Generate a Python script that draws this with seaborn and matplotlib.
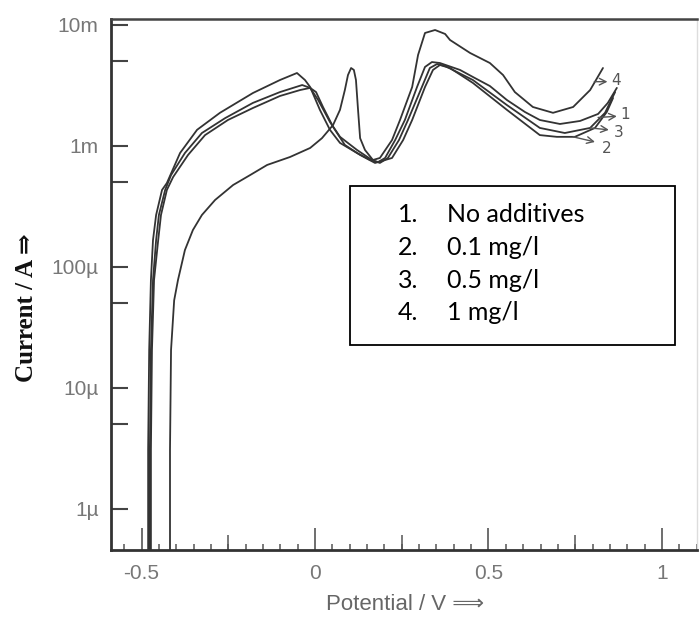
import numpy as np
import pandas as pd
import matplotlib
matplotlib.use("Agg")
import matplotlib.pyplot as plt
import seaborn as sns
from matplotlib.ticker import FixedLocator, NullFormatter, MultipleLocator
from matplotlib.patches import Rectangle

# ---------------- data (potential in V, current in mA) ----------------
curve_ids = ["1", "2", "3", "4"]
legend_labels = ["No additives", "0.1 mg/l", "0.5 mg/l", "1 mg/l"]

potential_1 = [-0.481, -0.481, -0.478, -0.473, -0.467, -0.458, -0.441, -0.427, -0.389, -0.340,
               -0.274, -0.179, -0.101, -0.052, -0.029, -0.014, 0.014, 0.043, 0.072, 0.121,
               0.159, 0.182, 0.202, 0.231, 0.259, 0.294, 0.317, 0.337, 0.360, 0.418,
               0.455, 0.504, 0.553, 0.605, 0.648, 0.706, 0.764, 0.816, 0.844, 0.870]
current_1 = [0.00038, 0.00308, 0.0206, 0.078, 0.167, 0.269, 0.433, 0.494, 0.875, 1.36,
             1.88, 2.74, 3.51, 4.01, 3.51, 3.07, 1.99, 1.36, 1.06, 0.875,
             0.766, 0.737, 0.796, 1.12, 1.64, 3.07, 4.50, 4.94, 4.85, 4.25,
             3.72, 3.13, 2.40, 1.91, 1.64, 1.52, 1.61, 1.84, 2.27, 3.02]

potential_2 = [-0.473, -0.473, -0.470, -0.464, -0.452, -0.444, -0.427, -0.409, -0.366, -0.317,
               -0.251, -0.179, -0.101, -0.043, -0.014, 0.003, 0.023, 0.052, 0.086, 0.130,
               0.173, 0.222, 0.254, 0.280, 0.317, 0.340, 0.360, 0.389, 0.455, 0.553,
               0.648, 0.697, 0.749, 0.807, 0.841, 0.859]
current_2 = [0.00038, 0.00308, 0.0206, 0.078, 0.167, 0.269, 0.433, 0.554, 0.843, 1.23,
             1.64, 2.06, 2.59, 2.90, 3.02, 2.79, 2.10, 1.44, 1.02, 0.843,
             0.724, 0.796, 1.12, 1.64, 3.07, 4.25, 4.67, 4.41, 3.32, 1.99,
             1.23, 1.19, 1.19, 1.41, 1.91, 2.49]

potential_3 = [-0.476, -0.476, -0.473, -0.467, -0.458, -0.450, -0.432, -0.415, -0.375, -0.326,
               -0.259, -0.179, -0.101, -0.037, -0.014, 0.009, 0.043, 0.072, 0.121, 0.164,
               0.187, 0.210, 0.242, 0.268, 0.308, 0.331, 0.352, 0.375, 0.455, 0.553,
               0.648, 0.720, 0.793, 0.836, 0.865]
current_3 = [0.00038, 0.00308, 0.0206, 0.078, 0.167, 0.269, 0.433, 0.575, 0.875, 1.28,
             1.70, 2.27, 2.79, 3.19, 3.02, 2.40, 1.58, 1.19, 0.927, 0.766,
             0.724, 0.796, 1.12, 1.64, 3.07, 4.41, 4.76, 4.58, 3.51, 2.18,
             1.41, 1.28, 1.41, 1.88, 2.79]

potential_4 = [-0.418, -0.418, -0.415, -0.406, -0.395, -0.375, -0.352, -0.326, -0.288, -0.236,
               -0.187, -0.138, -0.072, -0.014, 0.020, 0.052, 0.072, 0.086, 0.095, 0.104,
               0.112, 0.118, 0.124, 0.130, 0.144, 0.167, 0.187, 0.222, 0.245, 0.280,
               0.297, 0.317, 0.346, 0.375, 0.389, 0.447, 0.504, 0.542, 0.576, 0.628,
               0.686, 0.744, 0.793, 0.830]
current_4 = [0.00038, 0.00308, 0.0206, 0.053, 0.078, 0.138, 0.202, 0.269, 0.358, 0.476,
             0.575, 0.697, 0.811, 0.963, 1.16, 1.49, 1.99, 2.90, 3.86, 4.41,
             4.25, 3.51, 1.99, 1.16, 0.927, 0.766, 0.796, 1.12, 1.64, 3.07,
             5.65, 8.59, 9.09, 8.43, 7.52, 5.87, 4.85, 3.86, 2.79, 2.10,
             1.88, 2.10, 2.90, 4.41]

y_tick_values = [1e-3, 1e-2, 1e-1, 1, 10]
y_tick_labels = ["1\u00b5", "10\u00b5", "100\u00b5", "1m", "10m"]
y_minor_values = [5e-3, 5e-2, 0.5, 5]
x_tick_values = [-0.5, 0, 0.5, 1]
x_tick_labels = ["-0.5", "0", "0.5", "1"]
x_mid_values = [-0.25, 0.25, 0.75]

# ---------------- build long table ----------------
frames = []
for cid, v, i in zip(curve_ids,
                     [potential_1, potential_2, potential_3, potential_4],
                     [current_1, current_2, current_3, current_4]):
    frames.append(pd.DataFrame({"potential": v, "current": i, "curve": cid}))
df = pd.concat(frames, ignore_index=True)

sns.set_theme(style="white")
plt.rcParams["font.family"] = ["Liberation Sans", "DejaVu Sans"]

fig = plt.figure(figsize=(7.0, 6.26), dpi=100)
ax = fig.add_axes([0.1586, 0.1214, 0.8371, 0.8482])

sns.lineplot(data=df, x="potential", y="current", units="curve", estimator=None,
             sort=False, color="#333333", linewidth=1.3, legend=False, ax=ax)

ax.set_yscale("log")
ax.set_xlim(-0.588, 1.101)
ax.set_ylim(4.58e-4, 11.2)

ax.set_yticks(y_tick_values)
ax.set_yticklabels(y_tick_labels)
ax.yaxis.set_minor_locator(FixedLocator(y_minor_values))
ax.yaxis.set_minor_formatter(NullFormatter())
ax.set_xticks(x_tick_values)
ax.set_xticklabels(x_tick_labels)
ax.xaxis.set_minor_locator(MultipleLocator(0.05))

ax.tick_params(axis="y", which="both", direction="in", length=12, width=1.5,
               color="#444444", labelsize=15, labelcolor="#777777", pad=9,
               left=True, right=False)
ax.tick_params(axis="x", which="major", direction="in", length=16, width=1.2,
               color="#555555", labelsize=15, labelcolor="#777777", pad=10,
               bottom=True, top=False)
ax.tick_params(axis="x", which="minor", direction="in", length=4.5, width=1.1,
               color="#555555", bottom=True, top=False)

sec = ax.secondary_xaxis("bottom")
sec.set_xticks(x_mid_values)
sec.tick_params(direction="in", length=11, width=1.1, color="#555555",
                labelbottom=False)
sec.spines["bottom"].set_visible(False)

for side in ["left", "bottom"]:
    ax.spines[side].set_linewidth(2.0)
    ax.spines[side].set_color("#333333")
ax.spines["top"].set_linewidth(1.8)
ax.spines["top"].set_color("#444444")
ax.spines["right"].set_linewidth(1.0)
ax.spines["right"].set_color("#dddddd")

ax.set_xlabel("Potential / V \u27f9", fontsize=16, color="#666666")
ax.xaxis.set_label_coords(0.502, -0.083)
ax.set_ylabel("Current / A \u21d2", fontsize=18, fontweight="bold", color="#111111",
              family=["Liberation Serif", "DejaVu Serif"])
ax.yaxis.set_label_coords(-0.125, 0.456)

# legend box
ax.add_patch(Rectangle((0.408, 0.386), 0.554, 0.299, transform=ax.transAxes,
                       facecolor="white", edgecolor="black", linewidth=1.3, zorder=5))
line_y = [0.631, 0.569, 0.508, 0.448]
for k, (cid, lab) in enumerate(zip(curve_ids, legend_labels)):
    ax.text(0.49, line_y[k], f"{cid}.", transform=ax.transAxes, fontsize=18,
            family=["Lato", "DejaVu Sans"], color="black", va="center", ha="left", zorder=6)
    ax.text(0.573, line_y[k], lab, transform=ax.transAxes, fontsize=18,
            family=["Lato", "DejaVu Sans"], color="black", va="center", ha="left", zorder=6)

# hand-written curve markers: arrow from curve to label
marks = [("4", (0.805, 3.40), (0.843, 3.40), (0.853, 3.45)),
         ("1", (0.816, 1.72), (0.870, 1.76), (0.880, 1.82)),
         ("3", (0.793, 1.41), (0.847, 1.36), (0.862, 1.30)),
         ("2", (0.744, 1.19), (0.807, 1.08), (0.828, 0.95))]
for txt, start, end, pos in marks:
    ax.annotate("", xy=end, xytext=start, textcoords="data",
                arrowprops=dict(arrowstyle="->", color="#555555", lw=1.0,
                                shrinkA=0, shrinkB=0))
    ax.text(pos[0], pos[1], txt, fontsize=11, color="#555555", va="center", ha="left",
            family=["DejaVu Sans"])

fig.savefig("out.png", dpi=100)
